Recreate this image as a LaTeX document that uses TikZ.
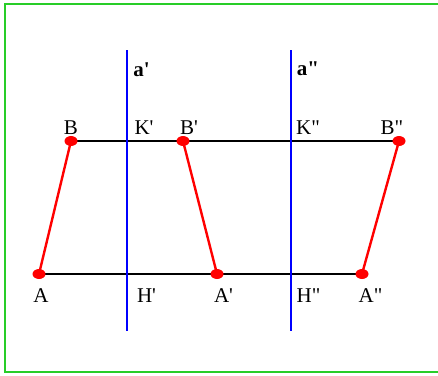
\documentclass[tikz,border=0pt]{standalone}
\usepackage{fontspec}
\newfontfamily\lblfont{Liberation Serif}
\usetikzlibrary{positioning}
\definecolor{framegreen}{RGB}{40,205,40}

\begin{document}
\begin{tikzpicture}[x=1pt,y=-1pt,
  every node/.style={font=\lblfont\fontsize{21}{24}\selectfont,inner sep=0pt,anchor=base},
  segline/.style={black,line width=1.4pt},
  arrowline/.style={red,line width=2.4pt},
  axisline/.style={blue,line width=2.4pt},
  dotfill/.style={fill=red}]
  \useasboundingbox (0,0) rectangle (438,375);
  \draw[framegreen,line width=2.2pt] (438,4) -- (5,4) -- (5,372) -- (438,372);
  % points
  \coordinate (A) at (39,274);
  \coordinate (A1) at (217,274);
  \coordinate (A2) at (362,274);
  \coordinate (B) at (71,141);
  \coordinate (B1) at (183,141);
  \coordinate (B2) at (399,141);
  \coordinate (a1top) at (127,50);
  \coordinate (a1bot) at (127,331);
  \coordinate (a2top) at (291,50);
  \coordinate (a2bot) at (291,331);
  % lines
  \draw[segline] (B) -- (B2);
  \draw[segline] (A) -- (A2);
  \draw[arrowline] (A) -- (B);
  \draw[arrowline] (A1) -- (B1);
  \draw[arrowline] (A2) -- (B2);
  \draw[axisline] (a1top) -- (a1bot);
  \draw[axisline] (a2top) -- (a2bot);
  \foreach \p in {A,A1,A2,B,B1,B2}
    \fill[dotfill] (\p) ellipse [x radius=6.5,y radius=5];
  % labels
  \node (lB) at (71,134) {B};
  \node (lK1) at (144,134) {K'};
  \node (lB1) at (189,134) {B'};
  \node (lK2) at (308,134) {K"};
  \node (lB2) at (392,134) {B"};
  \node (lA) at (41,302) {A};
  \node (lH1) at (146.5,302) {H'};
  \node (lA1) at (223.5,302) {A'};
  \node (lH2) at (308.5,302) {H"};
  \node (lA2) at (370.5,302) {A"};
  \node[font=\lblfont\bfseries\fontsize{21}{24}\selectfont] (la1) at (141.5,76) {a'};
  \node[font=\lblfont\bfseries\fontsize{21}{24}\selectfont] (la2) at (308,75) {a"};
\end{tikzpicture}
\end{document}
